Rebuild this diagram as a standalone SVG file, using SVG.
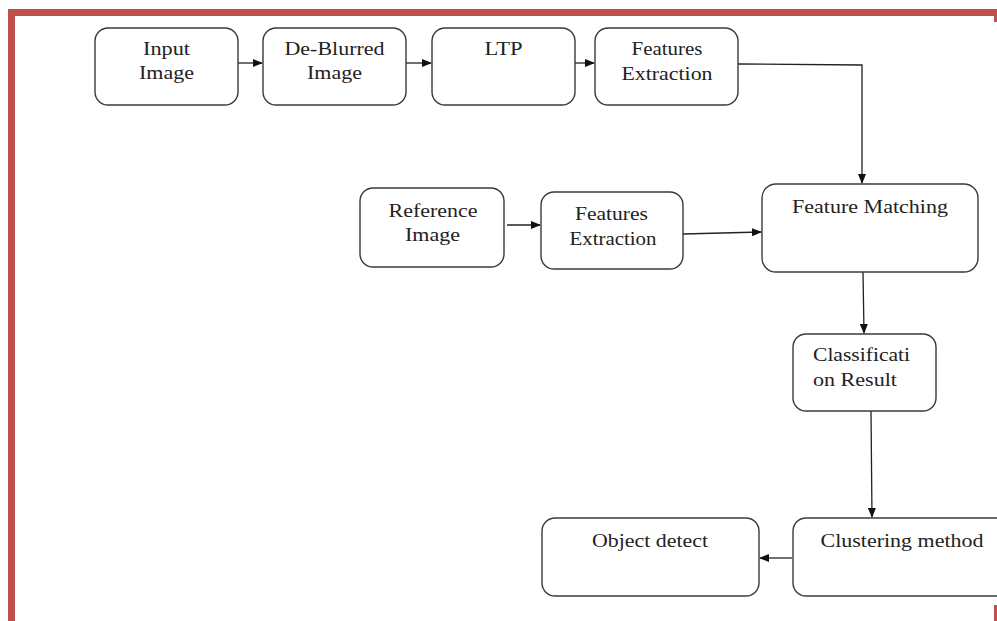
<svg xmlns="http://www.w3.org/2000/svg" width="997" height="621" viewBox="0 0 997 621">
<defs>
<marker id="ah" markerWidth="10" markerHeight="8" refX="9" refY="4" orient="auto" markerUnits="userSpaceOnUse">
<path d="M0,0 L10,4 L0,8 Z" fill="#111"/>
</marker>
<style>
.box{fill:#fff;stroke:#3a3a3a;stroke-width:1.4}
.lbl{font-family:"Liberation Serif","Times New Roman",serif;font-size:18px;fill:#222;text-anchor:middle}
.lft{text-anchor:start}
.con{fill:none;stroke:#222;stroke-width:1.3}
.red{fill:#c0504d}
</style>
</defs>
<rect width="997" height="621" fill="#fff"/>
<g id="frame">
<rect class="red" x="8" y="9" width="989" height="7"/>
<rect class="red" x="8" y="9" width="7" height="612"/>
<rect class="red" x="994" y="9" width="3" height="13"/>
<rect class="red" x="994" y="605" width="3" height="16"/>
</g>
<g id="connectors">
<line class="con" x1="238" y1="63" x2="262" y2="63" marker-end="url(#ah)"/>
<line class="con" x1="406" y1="63" x2="431" y2="63" marker-end="url(#ah)"/>
<line class="con" x1="575" y1="63" x2="594" y2="63" marker-end="url(#ah)"/>
<polyline class="con" points="738,64 862,65 862,183" marker-end="url(#ah)"/>
<line class="con" x1="507" y1="225" x2="540" y2="225" marker-end="url(#ah)"/>
<line class="con" x1="683" y1="234" x2="761" y2="232" marker-end="url(#ah)"/>
<line class="con" x1="863" y1="272" x2="864" y2="333" marker-end="url(#ah)"/>
<line class="con" x1="871" y1="411" x2="872" y2="517" marker-end="url(#ah)"/>
<line class="con" x1="792" y1="558" x2="760" y2="558" marker-end="url(#ah)"/>
</g>
<g id="input-image">
<rect class="box" x="95" y="28" width="143" height="77" rx="13"/>
<text class="lbl" x="166.5" y="55" textLength="47" lengthAdjust="spacingAndGlyphs">Input</text>
<text class="lbl" x="166.5" y="79" textLength="55" lengthAdjust="spacingAndGlyphs">Image</text>
</g>
<g id="deblurred-image">
<rect class="box" x="263" y="28" width="143" height="77" rx="13"/>
<text class="lbl" x="334.5" y="55" textLength="100" lengthAdjust="spacingAndGlyphs">De-Blurred</text>
<text class="lbl" x="334.5" y="79" textLength="55" lengthAdjust="spacingAndGlyphs">Image</text>
</g>
<g id="ltp">
<rect class="box" x="432" y="28" width="143" height="77" rx="13"/>
<text class="lbl" x="503.5" y="55" textLength="38" lengthAdjust="spacingAndGlyphs">LTP</text>
</g>
<g id="features-extraction-1">
<rect class="box" x="595" y="28" width="143" height="77" rx="13"/>
<text class="lbl" x="667" y="55" textLength="71" lengthAdjust="spacingAndGlyphs">Features</text>
<text class="lbl" x="667" y="80" textLength="91" lengthAdjust="spacingAndGlyphs">Extraction</text>
</g>
<g id="reference-image">
<rect class="box" x="360" y="188" width="144" height="79" rx="13"/>
<text class="lbl" x="433" y="217" textLength="89" lengthAdjust="spacingAndGlyphs">Reference</text>
<text class="lbl" x="432.5" y="241" textLength="55" lengthAdjust="spacingAndGlyphs">Image</text>
</g>
<g id="features-extraction-2">
<rect class="box" x="541" y="192" width="142" height="77" rx="13"/>
<text class="lbl" x="611.5" y="220" textLength="73" lengthAdjust="spacingAndGlyphs">Features</text>
<text class="lbl" x="613" y="245" textLength="87" lengthAdjust="spacingAndGlyphs">Extraction</text>
</g>
<g id="feature-matching">
<rect class="box" x="762" y="184" width="216" height="88" rx="14"/>
<text class="lbl" x="870" y="213" textLength="156" lengthAdjust="spacingAndGlyphs">Feature Matching</text>
</g>
<g id="classification-result">
<rect class="box" x="793" y="334" width="143" height="77" rx="13"/>
<text class="lbl lft" x="813" y="361" textLength="97" lengthAdjust="spacingAndGlyphs">Classificati</text>
<text class="lbl lft" x="813" y="386" textLength="84" lengthAdjust="spacingAndGlyphs">on Result</text>
</g>
<g id="clustering-method">
<rect class="box" x="793" y="518" width="230" height="78" rx="13"/>
<text class="lbl" x="902" y="547" textLength="163" lengthAdjust="spacingAndGlyphs">Clustering method</text>
</g>
<g id="object-detect">
<rect class="box" x="542" y="518" width="217" height="78" rx="13"/>
<text class="lbl" x="650" y="547" textLength="116" lengthAdjust="spacingAndGlyphs">Object detect</text>
</g>
</svg>
